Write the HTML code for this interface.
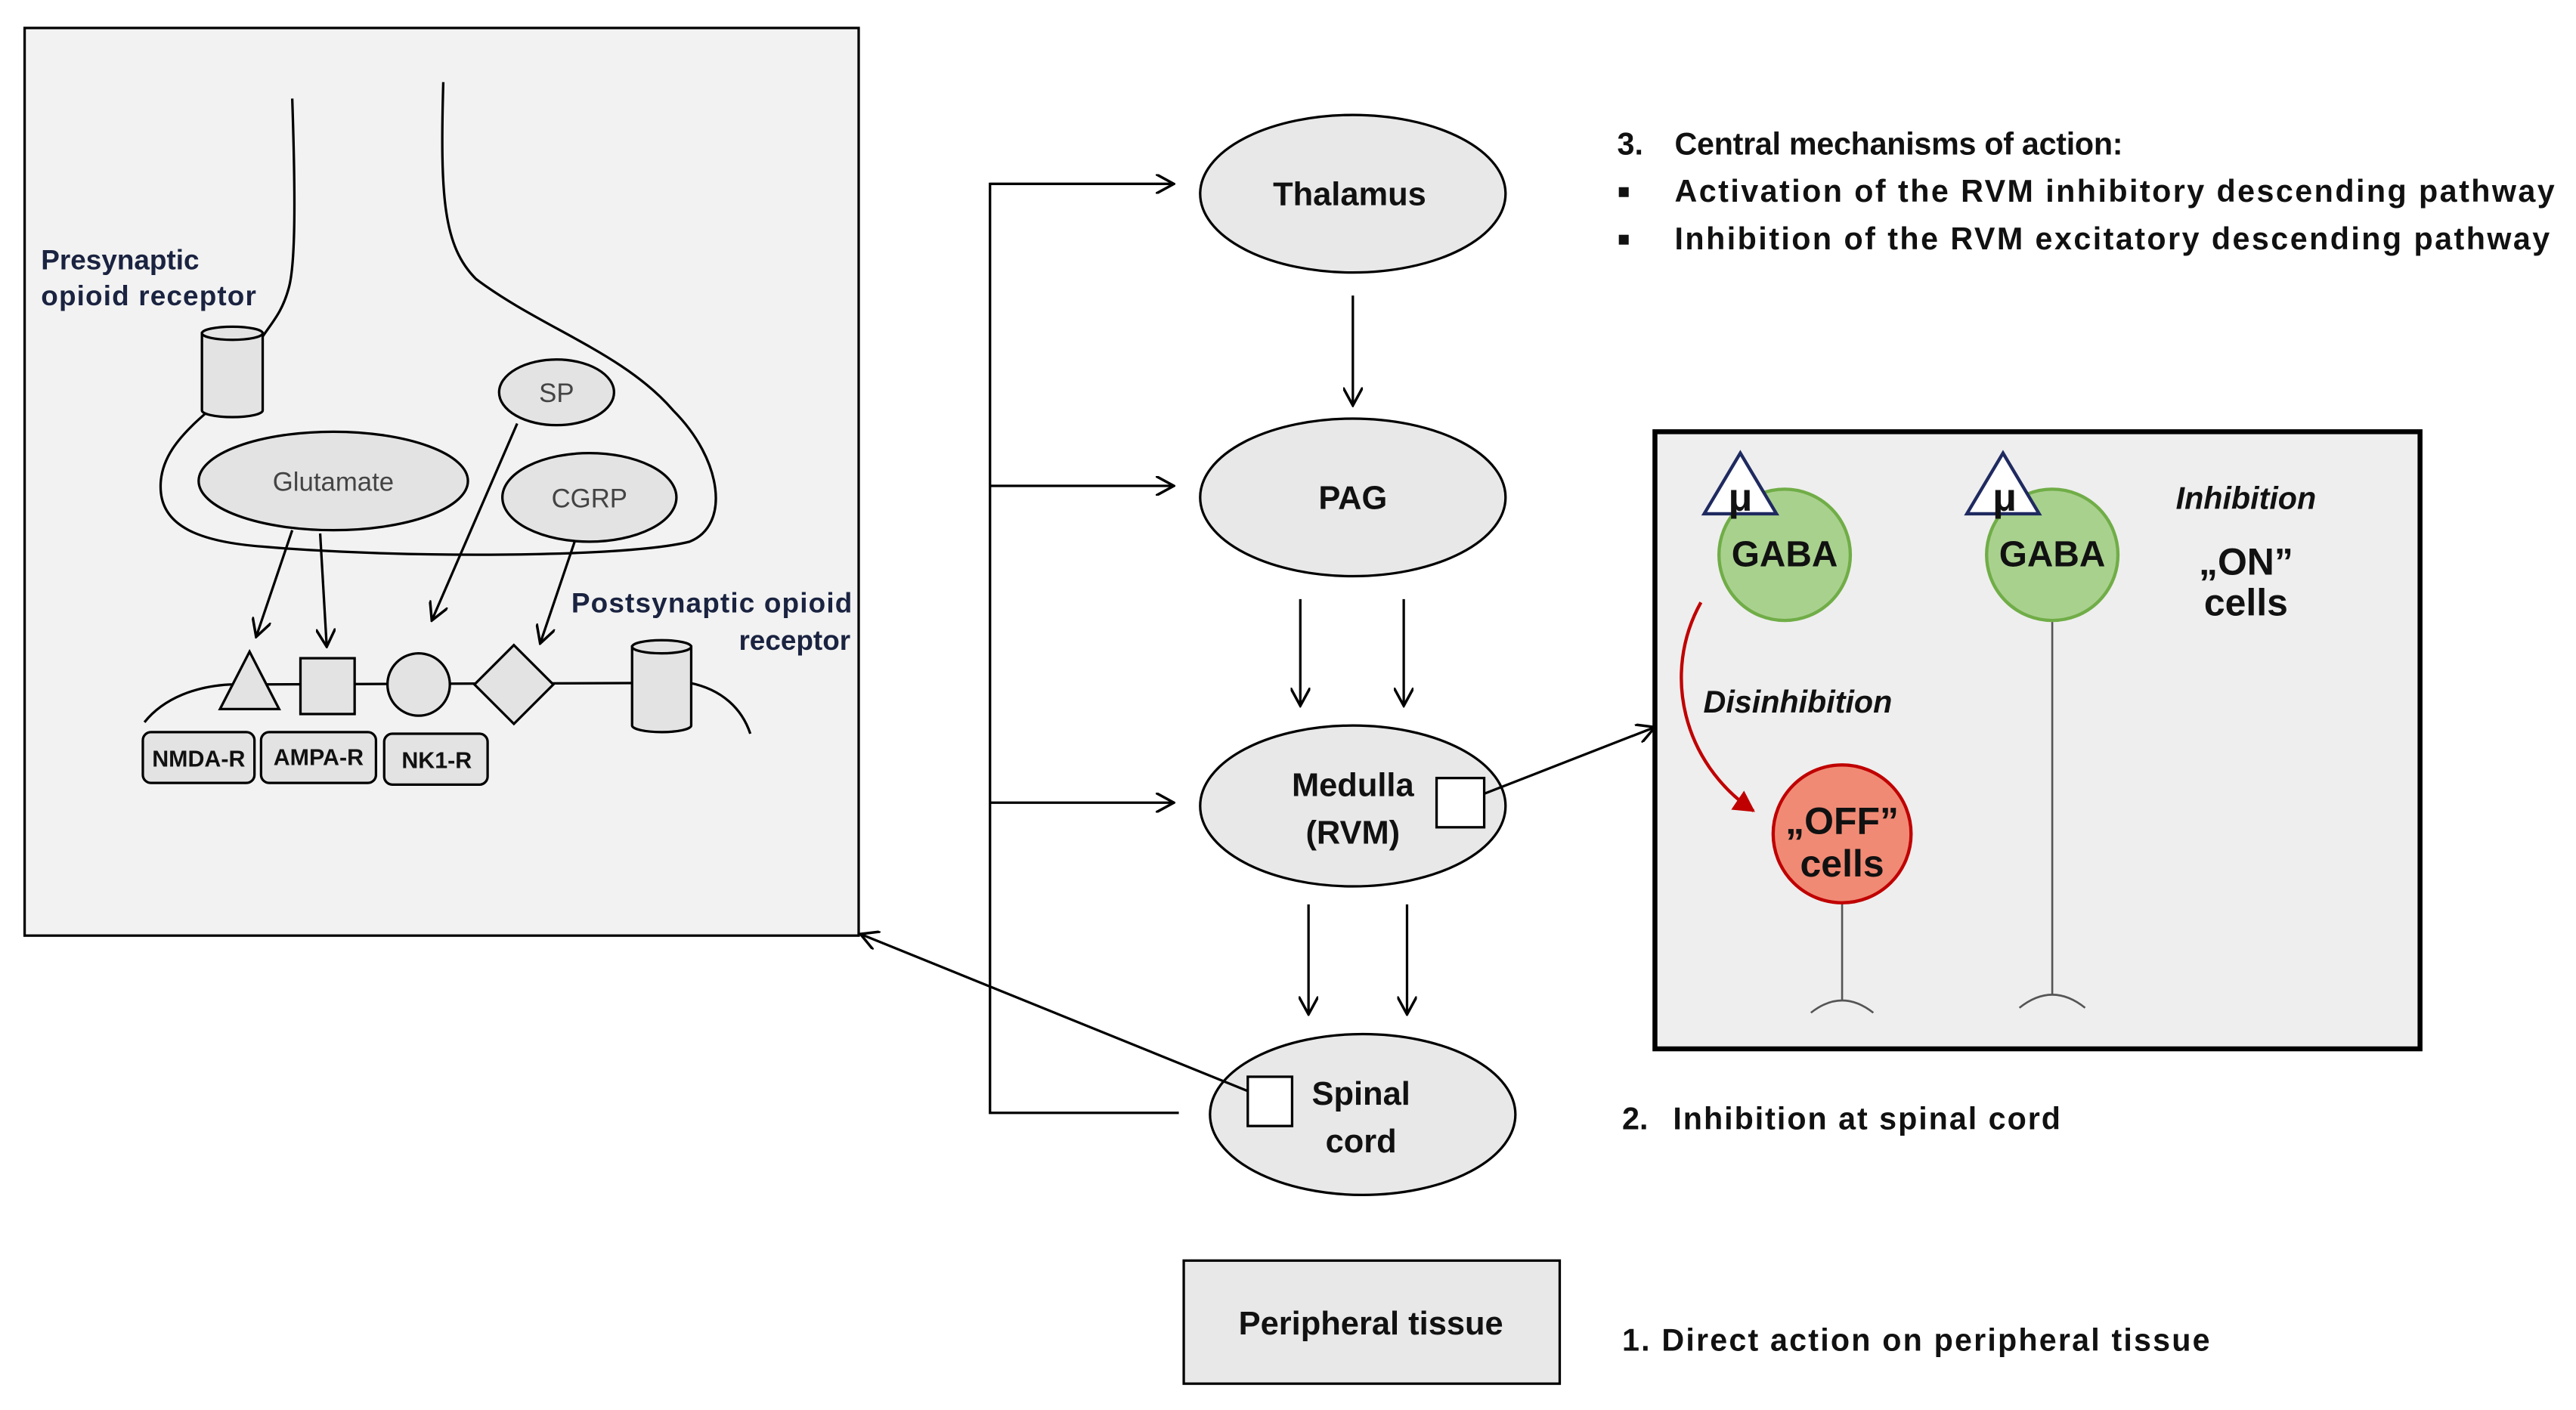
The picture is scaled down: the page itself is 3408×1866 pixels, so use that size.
<!DOCTYPE html>
<html><head><meta charset="utf-8"><style>html,body{margin:0;padding:0;background:#fff}svg{display:block}</style></head><body>
<svg xmlns="http://www.w3.org/2000/svg" width="3408" height="1866" viewBox="0 0 1569 859" font-family="Liberation Sans, sans-serif">
<defs>
<marker id="a" viewBox="0 0 12 12" refX="11" refY="6" markerWidth="12" markerHeight="12" markerUnits="userSpaceOnUse" orient="auto"><path d="M0,0 L11,6 L0,12" fill="none" stroke="#000" stroke-width="1.6"/></marker>
<marker id="r" viewBox="0 0 12 12" refX="10" refY="6" markerWidth="14" markerHeight="14" markerUnits="userSpaceOnUse" orient="auto"><path d="M0,0 L11,6 L0,12 Z" fill="#c00000"/></marker>
</defs>
<rect x="15" y="17" width="508" height="553" fill="#f2f2f2" stroke="#000" stroke-width="1.5"/>
<g fill="none" stroke="#000" stroke-width="1.5">
<path d="M178,60 C180,120 180,160 176,175 C172,190 166,196 160,205"/>
<path d="M270,50 C268,120 270,150 290,170 C330,200 380,215 410,250 C440,280 445,320 420,330 C380,340 240,340 160,333 C120,330 100,320 98,300 C96,280 110,265 125,252"/>
<path d="M88,440 C100,425 120,418 140,417 L420,416 C440,420 452,432 457,447"/>
</g>
<g stroke="#000" stroke-width="1.5" fill="#e3e3e3">
<path d="M123,203 L123,250 A18,4 0 0 0 160,250 L160,203 Z"/><ellipse cx="141.5" cy="203" rx="18.5" ry="4"/>
<path d="M385,394 L385,442 A18,4 0 0 0 421,442 L421,394 Z"/><ellipse cx="403" cy="394" rx="18" ry="4"/>
<ellipse cx="203" cy="293" rx="82" ry="30"/>
<ellipse cx="339" cy="239" rx="35" ry="20"/>
<ellipse cx="359" cy="303" rx="53" ry="27"/>
<path d="M152,397 L170,432 L134,432 Z"/>
<rect x="183" y="401" width="33" height="34"/>
<circle cx="255" cy="417" r="19"/>
<path d="M313,393 L337,417 L313,441 L289,417 Z"/>
<rect x="87" y="446" width="68" height="31" rx="5"/>
<rect x="159" y="446" width="70" height="31" rx="5"/>
<rect x="234" y="447" width="63" height="31" rx="5"/>
</g>
<g stroke="#000" stroke-width="1.5" fill="none" marker-end="url(#a)">
<line x1="178" y1="323" x2="156" y2="388"/>
<line x1="195" y1="325" x2="199" y2="394"/>
<line x1="315" y1="258" x2="263" y2="378"/>
<line x1="350" y1="330" x2="329" y2="392"/>
</g>
<g font-size="16" fill="#444" text-anchor="middle">
<text x="203" y="299">Glutamate</text><text x="339" y="245">SP</text><text x="359" y="309">CGRP</text>
</g>
<g font-size="14" font-weight="bold" fill="#111" text-anchor="middle">
<text x="121" y="467">NMDA-R</text><text x="194" y="466">AMPA-R</text><text x="266" y="468">NK1-R</text>
</g>
<g font-size="17" fill="#1a2340" font-weight="bold">
<text x="25" y="164">Presynaptic</text><text x="25" y="186" textLength="131">opioid receptor</text>
<text x="348" y="373" textLength="171">Postsynaptic opioid</text><text x="518" y="396" text-anchor="end">receptor</text>
</g>
<g stroke="#000" stroke-width="1.5" fill="#e8e8e8">
<ellipse cx="824" cy="118" rx="93" ry="48"/>
<ellipse cx="824" cy="303" rx="93" ry="48"/>
<ellipse cx="824" cy="491" rx="93" ry="49"/>
<ellipse cx="830" cy="679" rx="93" ry="49"/>
<rect x="721" y="768" width="229" height="75"/>
</g>
<g stroke="#000" stroke-width="1.5" fill="none">
<polyline points="715,112 603,112 603,678 718,678" />
</g>
<g stroke="#000" stroke-width="1.5" fill="none" marker-end="url(#a)">
<line x1="603" y1="112" x2="715" y2="112"/>
<line x1="603" y1="296" x2="715" y2="296"/>
<line x1="603" y1="489" x2="715" y2="489"/>
<line x1="824" y1="180" x2="824" y2="247"/>
<line x1="792" y1="365" x2="792" y2="430"/>
<line x1="855" y1="365" x2="855" y2="430"/>
<line x1="797" y1="551" x2="797" y2="618"/>
<line x1="857" y1="551" x2="857" y2="618"/>
<line x1="890" y1="489" x2="1008" y2="443"/>
<line x1="773" y1="670" x2="524" y2="569"/>
</g>
<rect x="875" y="474" width="29" height="30" fill="#fff" stroke="#000" stroke-width="1.5"/>
<rect x="760" y="656" width="27" height="30" fill="#fff" stroke="#000" stroke-width="1.5"/>
<g font-size="20" font-weight="bold" fill="#111" text-anchor="middle">
<text x="822" y="125">Thalamus</text>
<text x="824" y="310">PAG</text>
<text x="824" y="485">Medulla</text><text x="824" y="514">(RVM)</text>
<text x="829" y="673">Spinal</text><text x="829" y="702">cord</text>
<text x="835" y="813">Peripheral tissue</text>
</g>
<rect x="1008" y="263" width="466" height="376" fill="#eeeeee" stroke="#000" stroke-width="3"/>
<g stroke="#555" stroke-width="1.2" fill="none">
<line x1="1122" y1="550" x2="1122" y2="610"/><path d="M1103,617 Q1122,602 1141,617"/>
<line x1="1250" y1="378" x2="1250" y2="606"/><path d="M1230,614 Q1250,598 1270,614"/>
</g>
<circle cx="1087" cy="338" r="40" fill="#a9d18e" stroke="#70ad47" stroke-width="2"/>
<circle cx="1250" cy="338" r="40" fill="#a9d18e" stroke="#70ad47" stroke-width="2"/>
<circle cx="1122" cy="508" r="42" fill="#f08a75" stroke="#c00000" stroke-width="2"/>
<path d="M1060,276 L1082,313 L1038,313 Z" fill="#fff" stroke="#1f2a60" stroke-width="2"/>
<path d="M1220,276 L1242,313 L1198,313 Z" fill="#fff" stroke="#1f2a60" stroke-width="2"/>
<path d="M1036,367 C1012,410 1025,465 1068,494" fill="none" stroke="#c00000" stroke-width="2" marker-end="url(#r)"/>
<g font-weight="bold" fill="#111" text-anchor="middle">
<text x="1060" y="311" font-size="24">μ</text><text x="1221" y="311" font-size="24">μ</text>
<text x="1087" y="345" font-size="22">GABA</text><text x="1250" y="345" font-size="22">GABA</text>
<text x="1122" y="508" font-size="23">„OFF”</text><text x="1122" y="534" font-size="23">cells</text>
<text x="1368" y="350" font-size="23">„ON”</text><text x="1368" y="375" font-size="23">cells</text>
<text x="1368" y="310" font-size="19" font-style="italic">Inhibition</text>
<text x="1095" y="434" font-size="19" font-style="italic">Disinhibition</text>
</g>
<g font-size="19" font-weight="bold" fill="#111">
<text x="985" y="94">3.</text><text x="1020" y="94" textLength="273">Central mechanisms of action:</text>
<rect x="986" y="114" width="6" height="6"/><text x="1020" y="123" textLength="536">Activation of the RVM inhibitory descending pathway</text>
<rect x="986" y="143" width="6" height="6"/><text x="1020" y="152" textLength="533">Inhibition  of the RVM excitatory descending pathway</text>
<text x="988" y="688">2.</text><text x="1019" y="688" textLength="236">Inhibition  at spinal cord</text>
<text x="988" y="823" textLength="358">1. Direct action on peripheral tissue</text>
</g>
</svg>
</body></html>
